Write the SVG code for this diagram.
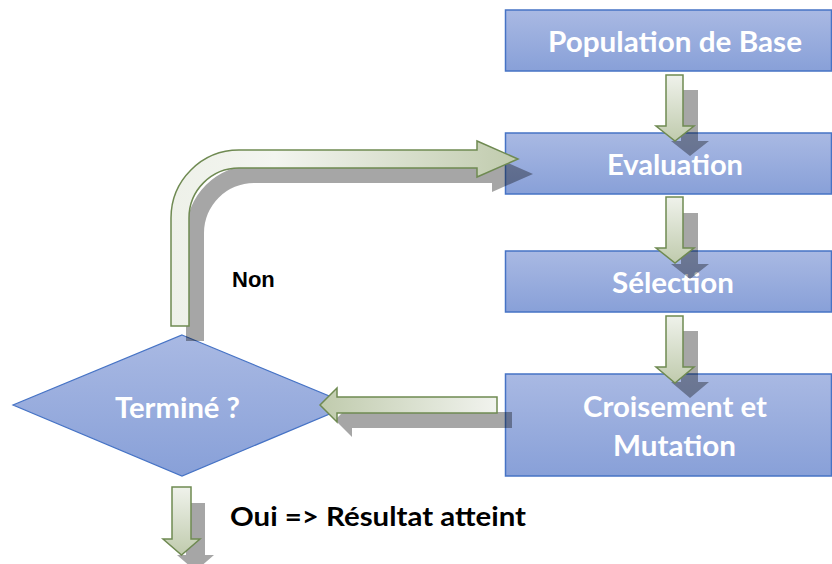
<svg xmlns="http://www.w3.org/2000/svg" width="832" height="564" viewBox="0 0 832 564">
<defs>
<linearGradient id="gBox" x1="0" y1="0" x2="0" y2="1">
<stop offset="0" stop-color="#a9b9e3"/>
<stop offset="1" stop-color="#88a0d8"/>
</linearGradient>
<linearGradient id="gDown" x1="0" y1="0" x2="0" y2="1">
<stop offset="0" stop-color="#eff2eb"/>
<stop offset="1" stop-color="#c0cbad"/>
</linearGradient>
<linearGradient id="gLeft" x1="1" y1="0" x2="0" y2="0">
<stop offset="0" stop-color="#f1f3ee"/>
<stop offset="1" stop-color="#c0cbad"/>
</linearGradient>
<linearGradient id="gCurve" x1="0" y1="0" x2="1" y2="0">
<stop offset="0" stop-color="#eef1e9"/>
<stop offset="0.3" stop-color="#f3f5f0"/>
<stop offset="1" stop-color="#c0cbad"/>
</linearGradient>
<style>
.box{fill:url(#gBox);stroke:#4673c5;stroke-width:1.5}
.ntxt{font-family:Lato,"Open Sans","Liberation Sans",sans-serif;font-weight:bold;font-size:28px;fill:#ffffff}
.arr{stroke:#6f8a52;stroke-width:1.5;stroke-linejoin:miter}
.shd{fill:#000000;fill-opacity:0.35;stroke:none}
.lbl{font-weight:bold;fill:#000000}
</style>
</defs>

<g id="node-population">
<rect class="box" x="505.5" y="10" width="326" height="61"/>
<text class="ntxt" x="548" y="52" textLength="254" lengthAdjust="spacingAndGlyphs">Population de Base</text>
</g>
<g id="node-evaluation">
<rect class="box" x="505.5" y="133" width="326" height="61"/>
<text class="ntxt" x="607" y="175" textLength="136" lengthAdjust="spacingAndGlyphs">Evaluation</text>
</g>
<g id="node-selection">
<rect class="box" x="505.5" y="251" width="326" height="61"/>
<text class="ntxt" x="612" y="293" textLength="122" lengthAdjust="spacingAndGlyphs">Sélection</text>
</g>
<g id="node-croisement">
<rect class="box" x="505.5" y="374" width="326" height="102"/>
<text class="ntxt" x="583" y="417" textLength="184" lengthAdjust="spacingAndGlyphs">Croisement et</text>
<text class="ntxt" x="613" y="456" textLength="123" lengthAdjust="spacingAndGlyphs">Mutation</text>
</g>
<g id="node-termine">
<polygon class="box" style="stroke-width:1.2" points="182,335 351,405 182,476 13,405"/>
<text class="ntxt" x="115" y="418" textLength="125" lengthAdjust="spacingAndGlyphs">Terminé ?</text>
</g>

<g id="connectors">
<g id="shadows">
<path class="shd" transform="translate(15,15)" d="M666,75 H683 V126 H694 L675,141 L656,126 H666 Z"/>
<path class="shd" transform="translate(15,16)" d="M666,197 H683 V248 H694 L675,263 L656,248 H666 Z"/>
<path class="shd" transform="translate(15,15)" d="M666,316 H683 V367 H694 L675,383 L656,367 H666 Z"/>
<path class="shd" transform="translate(15,15)" d="M497,397 V413 H337 V422 L320,405 L337,388 V397 Z"/>
<path class="shd" transform="translate(15,15)" d="M171,326 L171,218 A68,68 0 0 1 239,150 L477,150 L477,141 L518,159 L477,177 L477,168 L239,168 A50,50 0 0 0 189,218 L189,326 Z"/>
<path class="shd" transform="translate(14,16)" d="M172,487 H191 V539 H200 L181.5,555 L163,539 H172 Z"/>
</g>
<path id="c-pop-eval" class="arr" fill="url(#gDown)" d="M666,75 H683 V126 H694 L675,141 L656,126 H666 Z"/>
<path id="c-eval-sel" class="arr" fill="url(#gDown)" d="M666,197 H683 V248 H694 L675,263 L656,248 H666 Z"/>
<path id="c-sel-crois" class="arr" fill="url(#gDown)" d="M666,316 H683 V367 H694 L675,383 L656,367 H666 Z"/>
<path id="c-crois-term" class="arr" fill="url(#gLeft)" d="M497,397 V413 H337 V422 L320,405 L337,388 V397 Z"/>
<path id="c-term-eval" class="arr" fill="url(#gCurve)" d="M171,326 L171,218 A68,68 0 0 1 239,150 L477,150 L477,141 L518,159 L477,177 L477,168 L239,168 A50,50 0 0 0 189,218 L189,326 Z"/>
<path id="c-term-out" class="arr" fill="url(#gDown)" d="M172,487 H191 V539 H200 L181.5,555 L163,539 H172 Z"/>
<text class="lbl" x="232" y="287" font-family="'Liberation Sans',Arial,sans-serif" font-size="22">Non</text>
<text class="lbl" x="230" y="526" font-family="Lato,'Open Sans','Liberation Sans',sans-serif" font-size="27" textLength="296" lengthAdjust="spacingAndGlyphs">Oui =&gt; Résultat atteint</text>
</g>
</svg>
